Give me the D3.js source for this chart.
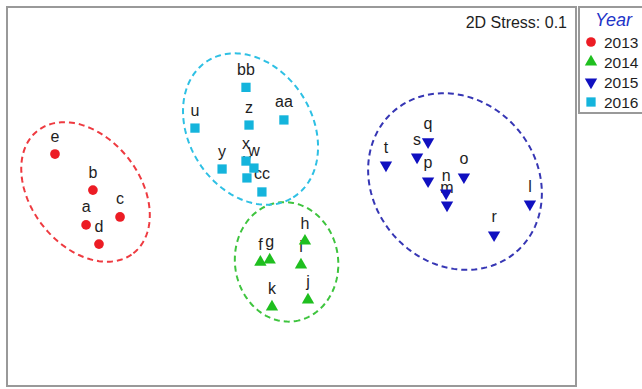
<!DOCTYPE html>
<html>
<head>
<meta charset="utf-8">
<script src="https://cdn.jsdelivr.net/npm/d3@7"></script>
<style>
  html, body { margin: 0; padding: 0; background: #fff; }
  svg { display: block; font-family: Arial, "Liberation Sans", sans-serif; }
</style>
</head>
<body>
<svg id="chart" width="642" height="389"></svg>
<script>
// NMDS ordination of sites, grouped by sampling year
const sites  = ['a','b','c','d','e', 'f','g','h','i','j','k',
                'l','m','n','o','p','q','r','s','t',
                'u','v','w','x','y','z','aa','bb','cc'];
const siteYear = [2013,2013,2013,2013,2013,
                  2014,2014,2014,2014,2014,2014,
                  2015,2015,2015,2015,2015,2015,2015,2015,2015,
                  2016,2016,2016,2016,2016,2016,2016,2016,2016];
const nmds1 = [-1.083,-1.047,-0.904,-1.015,-1.247,
               -0.164,-0.115, 0.071, 0.050, 0.087,-0.103,
                1.257, 0.820, 0.815, 0.909, 0.720, 0.720, 1.068, 0.662, 0.498,
               -0.509,-0.235,-0.198,-0.240,-0.366,-0.224,-0.040,-0.240,-0.156];
const nmds2 = [-0.150, 0.034,-0.108,-0.251, 0.224,
               -0.346,-0.335,-0.235,-0.361,-0.546,-0.583,
               -0.040,-0.045, 0.018, 0.103, 0.082, 0.288,-0.203, 0.208, 0.166,
                0.361, 0.098, 0.150, 0.187, 0.145, 0.377, 0.404, 0.576, 0.024];

const years = [2013, 2014, 2015, 2016];
const yearColors = ['#ec1c24', '#1fbf1f', '#1010c0', '#14b4dc'];
const ellipseColors = ['#ee3a40', '#3ec43e', '#3636b4', '#2ec0e4'];

// Group ellipses (centre, semi-axes, rotation in degrees), ordination units
const ellCx    = [-1.086, -0.026, 0.862, -0.216];
const ellCy    = [ 0.024, -0.345, 0.079,  0.356];
const ellA     = [ 0.410,  0.316, 0.492,  0.425];
const ellB     = [ 0.287,  0.272, 0.430,  0.325];
const ellAngle = [-52,    -82.5, -48.7,  -58];

const stress = 0.1;

const W = 642, H = 389;
const plot = { left: 7, right: 576, top: 7, bottom: 386 };

const x = d3.scaleLinear().domain([-1.5, 1.5]).range([plot.left, plot.right]);
const y = d3.scaleLinear().domain([-1, 1]).range([plot.bottom, plot.top]);

const svg = d3.select('#chart');
svg.append('rect').attr('width', W).attr('height', H).attr('fill', '#fff');

const shapeFor = {
  2013: { type: d3.symbolCircle,   size: 74, rot: 0 },
  2014: { type: d3.symbolTriangle, size: 66, rot: 0 },
  2015: { type: d3.symbolTriangle, size: 66, rot: 180 },
  2016: { type: d3.symbolSquare,   size: 86, rot: 0 }
};
const colorOf = yr => yearColors[years.indexOf(yr)];

// plot frame
svg.append('rect')
  .attr('x', plot.left).attr('y', plot.top)
  .attr('width', plot.right - plot.left).attr('height', plot.bottom - plot.top)
  .attr('fill', 'none').attr('stroke', '#999').attr('stroke-width', 2);

// ellipses traced in data space, then projected through the scales
const ellLine = d3.line().x(d => x(d[0])).y(d => y(d[1])).curve(d3.curveLinearClosed);
years.forEach((yr, i) => {
  const phi = ellAngle[i] * Math.PI / 180;
  const pts = d3.range(0, 360, 2).map(deg => {
    const t = deg * Math.PI / 180;
    const ex = ellA[i] * Math.cos(t), ey = ellB[i] * Math.sin(t);
    return [ellCx[i] + ex * Math.cos(phi) - ey * Math.sin(phi),
            ellCy[i] + ex * Math.sin(phi) + ey * Math.cos(phi)];
  });
  svg.append('path')
    .attr('d', ellLine(pts))
    .attr('fill', 'none')
    .attr('stroke', ellipseColors[i])
    .attr('stroke-width', 2)
    .attr('stroke-dasharray', '6,4');
});

const pts = sites.map((s, i) => ({ site: s, year: siteYear[i], x: nmds1[i], y: nmds2[i] }));

// site labels (drawn beneath the markers)
svg.append('g').selectAll('text').data(pts).join('text')
  .attr('x', d => x(d.x))
  .attr('y', d => y(d.y) - 12.5)
  .attr('text-anchor', 'middle')
  .attr('font-size', 16)
  .attr('fill', '#1e1e1e')
  .text(d => d.site);

// markers
svg.append('g').selectAll('path').data(pts).join('path')
  .attr('transform', d => `translate(${x(d.x)},${y(d.y)}) rotate(${shapeFor[d.year].rot})`)
  .attr('d', d => d3.symbol().type(shapeFor[d.year].type).size(shapeFor[d.year].size)())
  .attr('fill', d => colorOf(d.year));

// stress annotation
svg.append('text')
  .attr('x', 567).attr('y', 28)
  .attr('text-anchor', 'end')
  .attr('font-size', 16)
  .attr('fill', '#1e1e1e')
  .text(`2D Stress: ${stress}`);

// legend
const lg = svg.append('g');
lg.append('rect')
  .attr('x', 579).attr('y', 7).attr('width', 80).attr('height', 106)
  .attr('fill', '#fff').attr('stroke', '#999').attr('stroke-width', 2);
lg.append('text')
  .attr('x', 595).attr('y', 26)
  .attr('font-size', 18).attr('font-style', 'italic')
  .attr('fill', '#1f35c8')
  .text('Year');
const rowY = d3.scalePoint().domain(years).range([42, 102]);
years.forEach((yr, i) => {
  const s = shapeFor[yr];
  lg.append('path')
    .attr('transform', `translate(591,${rowY(yr)}) rotate(${s.rot})`)
    .attr('d', d3.symbol().type(s.type).size(s.size)())
    .attr('fill', yearColors[i]);
  lg.append('text')
    .attr('x', 604).attr('y', rowY(yr) + 5.5)
    .attr('font-size', 15.5)
    .attr('fill', '#1e1e1e')
    .text(yr);
});
</script>
</body>
</html>
